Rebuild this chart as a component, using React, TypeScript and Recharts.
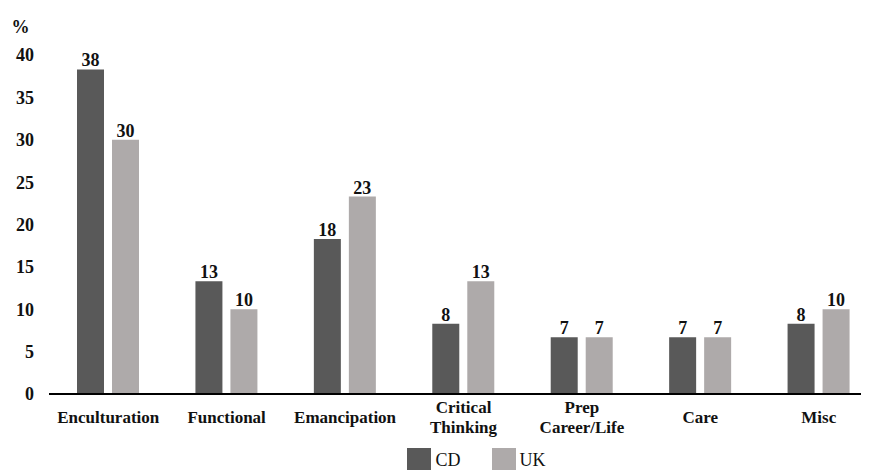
import { Bar, BarChart, LabelList, Legend, XAxis, YAxis } from 'recharts'

const categories = ['Enculturation', 'Functional', 'Emancipation', 'Critical\nThinking', 'Prep\nCareer/Life', 'Care', 'Misc']
const cdValues = [38.3, 13.3, 18.3, 8.3, 6.7, 6.7, 8.3]
const ukValues = [30, 10, 23.3, 13.3, 6.7, 6.7, 10]
const yTicks = [0, 5, 10, 15, 20, 25, 30, 35, 40]

const CD_COLOR = '#595959'
const UK_COLOR = '#AEAAAA'
const FONT = 'Liberation Serif, DejaVu Serif, serif'

const data = categories.map((name, i) => ({ name, CD: cdValues[i], UK: ukValues[i] }))

const textStyle = { fontFamily: FONT, fontWeight: 'bold' as const, fill: '#111' }

const CategoryTick = (props: any) => {
    const { x, y, payload } = props
    const lines = String(payload.value).split('\n')
    const base = lines.length === 1 ? 15 : 5
    return (
        <g transform={`translate(${x},${y})`}>
            {lines.map((line, i) => (
                <text
                    key={i}
                    x={0}
                    y={base + i * 20}
                    dy="0.35em"
                    textAnchor="middle"
                    style={{ ...textStyle, fontSize: 17 }}
                >
                    {line}
                </text>
            ))}
        </g>
    )
}

const renderLegend = () => (
    <div
        style={{
            display: 'flex',
            justifyContent: 'center',
            gap: 31,
            fontFamily: FONT,
            fontSize: 18,
            color: '#111',
            paddingLeft: 62,
        }}
    >
        {[
            { name: 'CD', color: CD_COLOR },
            { name: 'UK', color: UK_COLOR },
        ].map((item) => (
            <div key={item.name} style={{ display: 'flex', alignItems: 'center', gap: 4 }}>
                <span style={{ width: 24, height: 24, background: item.color, display: 'inline-block' }} />
                <span>{item.name}</span>
            </div>
        ))}
    </div>
)

const roundLabel = (v: any) => Math.round(Number(v))

const App = () => {
    return (
        <div style={{ width: 861, height: 462, overflow: 'hidden', position: 'relative' }}>
            <BarChart
                width={875}
                height={480}
                data={data}
                barSize={27}
                barGap={8}
                margin={{ top: 47, right: 5, left: 0, bottom: 0 }}
            >
                <XAxis
                    dataKey="name"
                    interval={0}
                    tickLine={false}
                    axisLine={{ stroke: '#000', strokeWidth: 2 }}
                    tick={<CategoryTick />}
                    height={70}
                />
                <YAxis
                    width={41}
                    domain={[0, 40]}
                    ticks={yTicks}
                    axisLine={false}
                    tickLine={false}
                    tickSize={0}
                    tickMargin={15}
                    tick={{ ...textStyle, fontSize: 18 }}
                    label={{
                        value: '%',
                        position: 'top',
                        offset: 22,
                        dx: -8,
                        style: { ...textStyle, fontSize: 18 },
                    }}
                />
                <Legend content={renderLegend} wrapperStyle={{ top: 440, left: 0, width: 875 }} />
                <Bar dataKey="CD" fill={CD_COLOR} isAnimationActive={false}>
                    <LabelList
                        dataKey="CD"
                        position="top"
                        offset={3}
                        formatter={roundLabel}
                        style={{ ...textStyle, fontSize: 18 }}
                    />
                </Bar>
                <Bar dataKey="UK" fill={UK_COLOR} isAnimationActive={false}>
                    <LabelList
                        dataKey="UK"
                        position="top"
                        offset={3}
                        formatter={roundLabel}
                        style={{ ...textStyle, fontSize: 18 }}
                    />
                </Bar>
            </BarChart>
        </div>
    )
}

export default App
